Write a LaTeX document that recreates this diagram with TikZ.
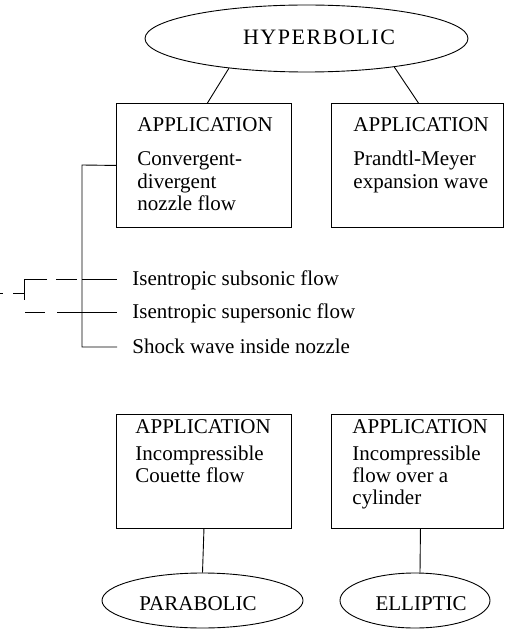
\documentclass[tikz,border=0pt]{standalone}
\usepackage{fontspec}
\setmainfont{Liberation Serif}
\usetikzlibrary{shapes.geometric}
\begin{document}
\begin{tikzpicture}[x=1pt,y=-1pt,line width=0.9pt,
  box/.style={draw,rectangle,inner sep=0pt,anchor=north west},
  oval/.style={draw,ellipse,inner sep=0pt},
  txt/.style={anchor=base west,inner sep=0pt,font=\fontsize{21}{22}\selectfont},
  ctxt/.style={anchor=base,inner sep=0pt,font=\fontsize{21}{22}\selectfont}]
\useasboundingbox (0,0) rectangle (506,631);
% ellipses
\node[oval,minimum width=323pt,minimum height=67pt] (hyp) at (306.5,38.5) {};
\node[ctxt,font=\fontsize{22}{22}\selectfont] (hypt) at (319,45) {\addfontfeature{LetterSpace=7}HYPERBOLIC};
\node[oval,minimum width=201pt,minimum height=55pt] (par) at (202.5,600.5) {};
\node[ctxt] (part) at (198,610) {PARABOLIC};
\node[oval,minimum width=150pt,minimum height=55pt] (ell) at (415,600.5) {};
\node[ctxt] (ellt) at (421,610) {ELLIPTIC};
% boxes
\node[box,minimum width=175pt,minimum height=124pt] (b1) at (116,103) {};
\node[box,minimum width=172pt,minimum height=124pt] (b2) at (331,103) {};
\node[box,minimum width=175pt,minimum height=114pt] (b3) at (116,414) {};
\node[box,minimum width=172pt,minimum height=114pt] (b4) at (331,414) {};
% box texts
\node[txt] (t1a) at (137,132) {APPLICATION};
\node[txt] (t1b) at (137,166) {Convergent-};
\node[txt] (t1c) at (137,188) {divergent};
\node[txt] (t1d) at (137,210) {nozzle flow};
\node[txt] (t2a) at (353,132) {APPLICATION};
\node[txt] (t2b) at (353,166) {Prandtl-Meyer};
\node[txt] (t2c) at (353,188) {expansion wave};
\node[txt] (t3a) at (135,433) {APPLICATION};
\node[txt] (t3b) at (135,460) {Incompressible};
\node[txt] (t3c) at (135,482) {Couette flow};
\node[txt] (t4a) at (352,433) {APPLICATION};
\node[txt] (t4b) at (352,460) {Incompressible};
\node[txt] (t4c) at (352,482) {flow over a};
\node[txt] (t4d) at (352,504) {cylinder};
% side texts
\node[txt] (s1) at (132,285) {Isentropic subsonic flow};
\node[txt] (s2) at (132,318) {Isentropic supersonic flow};
\node[txt] (s3) at (132,353) {Shock wave inside nozzle};
% connectors
\draw (hyp.201) -- ([xshift=3.5pt]b1.north);
\draw (hyp.342) -- ([xshift=1pt]b2.north);
\draw (b3.south) -- (par.north);
\draw ([xshift=3pt]b4.south) -- ([xshift=5pt]ell.north);
% bracket
\coordinate (v0) at (82,165);
\coordinate (v3) at (82,347);
\coordinate (j1) at (82,279);
\coordinate (j2) at (82,312);
\coordinate (e1) at (117,279);
\coordinate (e2) at (117,312);
\coordinate (e3) at (117,347);
\draw (b1.west) -- (v0) -- (v3) -- (e3);
\draw (j1) -- (e1);
\draw (j2) -- (e2);
% dashed lead-ins
\coordinate (d1) at (24,279);
\coordinate (d2) at (24,300);
\draw (56,279) -- (77,279);
\draw (47,279) -- (d1) -- (d2);
\draw (0,293) -- (3,293);
\draw (13,293) -- (24,293);
\draw (25,312) -- (45,312);
\draw (57,312) -- (j2);
\end{tikzpicture}
\end{document}
